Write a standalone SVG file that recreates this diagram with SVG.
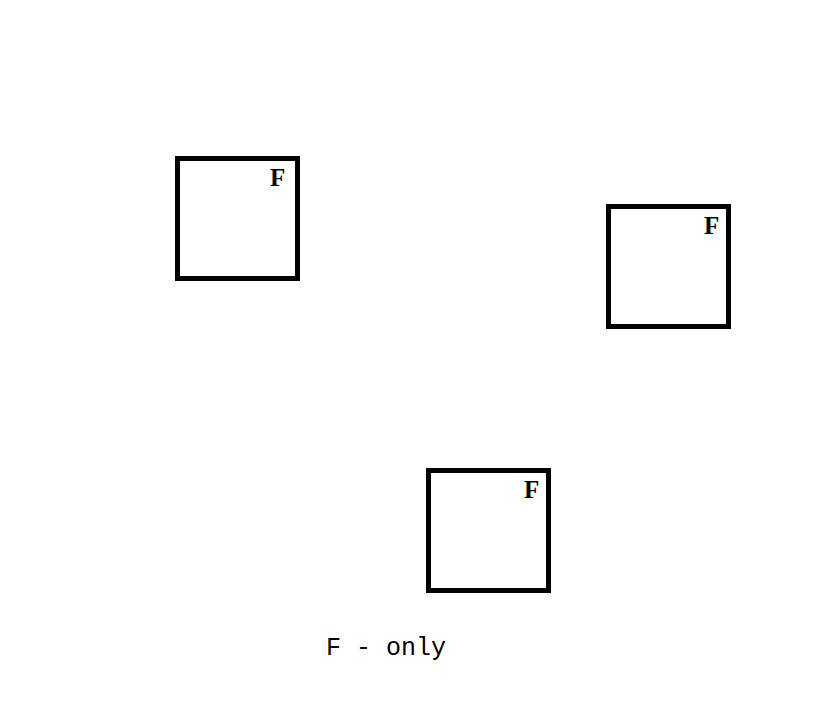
<svg xmlns="http://www.w3.org/2000/svg" width="824" height="706" viewBox="0 0 824 706">
<style>
.box{fill:#fff;stroke:#000;stroke-width:5}
.lbl{font-family:"Liberation Serif","Times New Roman",serif;font-weight:bold;font-size:25px;fill:#000}
.cap{font-family:"Liberation Mono","Courier New",monospace;font-size:25px;fill:#000}
</style>
<rect width="824" height="706" fill="#fff"/>
<g id="node1">
<rect class="box" x="177.5" y="158.5" width="120" height="120"/>
<text class="lbl" x="270" y="186">F</text>
</g>
<g id="node2">
<rect class="box" x="608.5" y="206.5" width="120" height="120"/>
<text class="lbl" x="704" y="233.5">F</text>
</g>
<g id="node3">
<rect class="box" x="428.5" y="470.5" width="120" height="120"/>
<text class="lbl" x="524" y="497.5">F</text>
</g>
<g id="connectors"></g>
<text class="cap" x="326" y="655">F - only</text>
</svg>
